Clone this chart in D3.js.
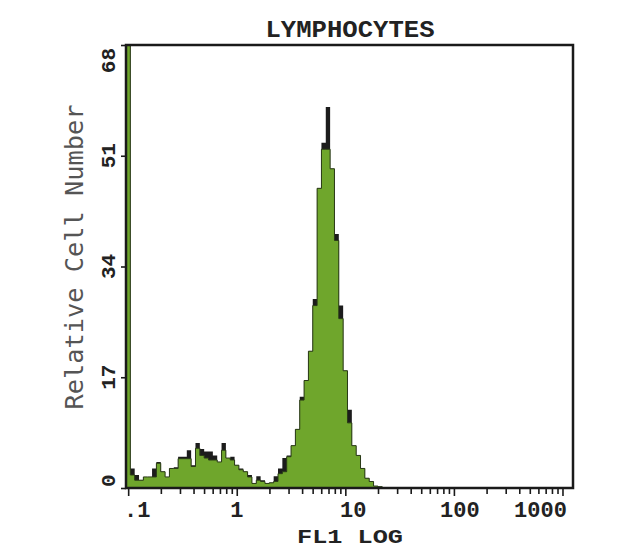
<!DOCTYPE html>
<html>
<head>
<meta charset="utf-8">
<script src="https://cdn.jsdelivr.net/npm/d3@7"></script>
<style>
  body { margin: 0; background: #fff; }
</style>
</head>
<body>
<div id="chart"></div>
<script>
const TITLE = "LYMPHOCYTES";
const X_LABEL = "FL1 LOG";
const Y_LABEL = "Relative Cell Number";

const yTicks = [0, 17, 34, 51, 68];
const xTicks = [0.1, 1, 10, 100, 1000];
const xTickLabels = [".1", "1", "10", "100", "1000"];

// histogram channels: first edge and width in log10 decades
const BIN_START = -1.02;
const BIN_WIDTH = 0.04;

// green filled histogram (cells per channel), channel 0 is off scale
const fillCounts = [
  70, 2, 1.2, 1.2, 1.7, 1.7, 1.7, 3.8, 2.5, 1.7,
  3, 3, 4.5, 4.5, 4.5, 3.3, 6.1, 5, 4.6, 4.3,
  4.3, 4, 5.8, 4.6, 4.3, 3.5, 2.8, 2.5, 1.7, 0.7,
  1.2, 1, 0.7, 0.8, 1, 2.2, 2.5, 4.8, 6.5, 9,
  13.5, 16.5, 21, 28, 46, 52, 52, 49, 38, 26,
  18, 10, 6.5, 5, 3, 1.5, 1, 0.3, 0.2, 0
];

// black outline histogram, shows where it rises above the fill
const edgeCounts = [
  70, 3, 2, 1.2, 1.7, 1.7, 3, 4, 2.5, 1.7,
  3, 3.2, 4.8, 4.8, 5.8, 3.5, 6.9, 6, 5.6, 5.6,
  5, 4, 6.9, 4.6, 4.8, 3.5, 3, 2.5, 2, 0.7,
  1.8, 1.2, 0.7, 0.8, 1.8, 3, 4.6, 5, 6.5, 9,
  14, 16.5, 21, 29, 46, 53, 58.5, 49, 39, 28,
  18, 12, 6.5, 5, 3, 1.5, 1, 0.3, 0.2, 0
];

(function() {
  const width = 640, height = 548;
  const plotLeft = 126, plotRight = 573, plotTop = 45, plotBottom = 488;

  const svg = d3.select("#chart").append("svg")
    .attr("width", width)
    .attr("height", height);

  const x = d3.scaleLog().domain([Math.pow(10, BIN_START), 1250]).range([plotLeft, plotRight]);
  const y = d3.scaleLinear().domain([0, 68]).range([plotBottom, plotTop]);

  svg.append("defs").append("clipPath").attr("id", "plot")
    .append("rect").attr("x", plotLeft).attr("y", plotTop)
    .attr("width", plotRight - plotLeft).attr("height", plotBottom - plotTop);

  function steps(values) {
    const pts = values.map((v, i) => [Math.pow(10, BIN_START + i * BIN_WIDTH), v]);
    pts.push([Math.pow(10, BIN_START + values.length * BIN_WIDTH), 0]);
    return pts;
  }

  const area = d3.area()
    .x(d => x(d[0]))
    .y0(y(0))
    .y1(d => y(d[1]))
    .curve(d3.curveStepAfter);

  const plot = svg.append("g").attr("clip-path", "url(#plot)");

  plot.append("path")
    .datum(steps(edgeCounts))
    .attr("fill", "#1c1c1c")
    .attr("d", area);

  plot.append("path")
    .datum(steps(fillCounts))
    .attr("fill", "#6fa62c")
    .attr("stroke", "#2a3a18")
    .attr("stroke-width", 1)
    .attr("d", area);

  // bottom ticks
  const minor = x.ticks().filter(t => t >= 0.1 && t <= 1000);
  const xAxis = svg.append("g")
    .attr("transform", `translate(0,${plotBottom})`)
    .call(d3.axisBottom(x).tickValues(minor).tickFormat("").tickSizeOuter(0));
  xAxis.select(".domain").remove();
  xAxis.selectAll(".tick line")
    .attr("stroke", "#1a1a1a")
    .attr("stroke-width", 1.6)
    .attr("y2", d => xTicks.includes(d) ? 8 : 6);

  // left ticks
  const yAxis = svg.append("g")
    .attr("transform", `translate(${plotLeft},0)`)
    .call(d3.axisLeft(y).tickValues(yTicks).tickFormat("").tickSize(5).tickSizeOuter(0));
  yAxis.select(".domain").remove();
  yAxis.selectAll(".tick line").attr("stroke", "#1a1a1a").attr("stroke-width", 1.6);

  // frame
  svg.append("rect")
    .attr("x", plotLeft).attr("y", plotTop)
    .attr("width", plotRight - plotLeft).attr("height", plotBottom - plotTop)
    .attr("fill", "none")
    .attr("stroke", "#1a1a1a")
    .attr("stroke-width", 2.5);

  // x tick labels (placed in the instrument's character cells)
  const xLabelShift = [9, 0, 8, 6, -22];
  svg.append("g").selectAll("text")
    .data(xTicks)
    .join("text")
    .attr("x", (d, i) => x(d) + xLabelShift[i])
    .attr("y", 517)
    .attr("text-anchor", "middle")
    .style("font-family", "'Liberation Mono', monospace")
    .style("font-weight", "bold")
    .style("font-size", "22px")
    .style("fill", "#222")
    .text((d, i) => xTickLabels[i]);

  // y tick labels, rotated
  svg.append("g").selectAll("text")
    .data(yTicks)
    .join("text")
    .attr("transform", d => `translate(115,${d === 0 ? plotBottom - 1 : d === 68 ? plotTop + 3 : y(d)}) rotate(-90)`)
    .attr("text-anchor", d => d === 0 ? "start" : d === 68 ? "end" : "middle")
    .style("font-family", "'Liberation Mono', monospace")
    .style("font-weight", "bold")
    .style("font-size", "21px")
    .style("fill", "#222")
    .text(d => d);

  // title
  svg.append("text")
    .attr("x", 350).attr("y", 37)
    .attr("text-anchor", "middle")
    .attr("textLength", 169)
    .attr("lengthAdjust", "spacingAndGlyphs")
    .style("font-family", "'Liberation Mono', monospace")
    .style("font-weight", "bold")
    .style("font-size", "23px")
    .style("fill", "#222")
    .text(TITLE);

  // x axis title
  svg.append("text")
    .attr("x", 350).attr("y", 543)
    .attr("text-anchor", "middle")
    .attr("textLength", 106)
    .attr("lengthAdjust", "spacingAndGlyphs")
    .style("font-family", "'Liberation Mono', monospace")
    .style("font-weight", "bold")
    .style("font-size", "21px")
    .style("fill", "#222")
    .text(X_LABEL);

  // y axis title
  svg.append("text")
    .attr("transform", "translate(83,257) rotate(-90)")
    .attr("text-anchor", "middle")
    .attr("textLength", 305)
    .attr("lengthAdjust", "spacingAndGlyphs")
    .style("font-family", "'DejaVu Sans Mono', monospace")
    .style("font-size", "24px")
    .style("fill", "#555")
    .text(Y_LABEL);
})();
</script>
</body>
</html>
